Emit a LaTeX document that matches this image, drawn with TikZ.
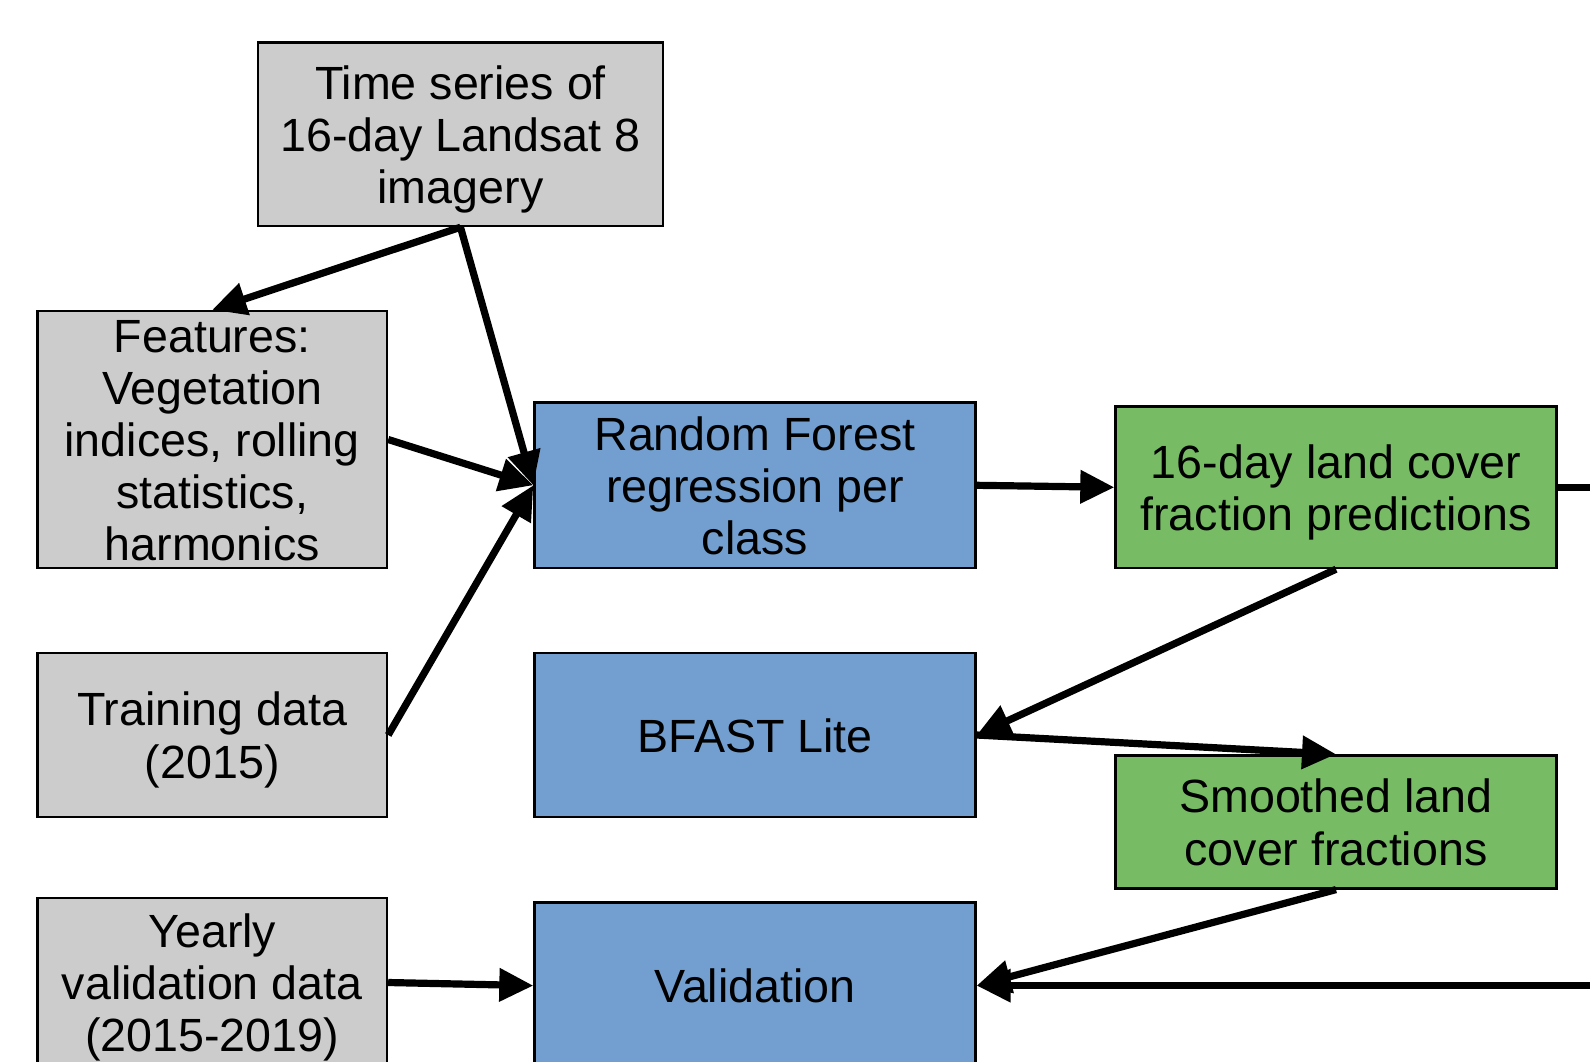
\documentclass[tikz,border=0pt]{standalone}
\usepackage{fontspec}
\setmainfont{Liberation Sans}
\usetikzlibrary{arrows.meta}
\definecolor{boxgrey}{HTML}{CCCCCC}
\definecolor{boxblue}{HTML}{729FCF}
\definecolor{boxgreen}{HTML}{77BC65}
\newcommand{\tsT}{\rule{0pt}{22pt}}
\newcommand{\tsB}{\rule[-5pt]{0pt}{5pt}}
\newcommand{\tsTs}{\rule{0pt}{20.4pt}}
\newcommand{\tsBs}{\rule[-3.4pt]{0pt}{3.4pt}}
\begin{document}
\begin{tikzpicture}[x=0.5pt,y=-0.5pt,
  box/.style={draw=black,line width=1.2pt,align=center,inner sep=0pt,
    font=\fontsize{23.3}{26.1}\selectfont},
  greybox/.style={box,fill=boxgrey,minimum width=174.75pt},
  bluebox/.style={box,fill=boxblue,minimum width=220.5pt},
  greenbox/.style={box,fill=boxgreen,minimum width=220.5pt},
  conn/.style={line width=3.6pt,-{Triangle[length=17pt,width=16pt]}},
  plainconn/.style={line width=3.6pt}]
\useasboundingbox (0,0) rectangle (1590,1061);
\clip (0,0) rectangle (1590,1061);
\node[greybox,minimum width=202.5pt,minimum height=91.75pt] (ts) at (460.5,134.3)
  {\tsT Time series of\\16-day Landsat 8\\imagery\tsB};
\node[greybox,minimum height=128.5pt] (feat) at (212.25,439.5)
  {\tsTs Features:\\Vegetation\\indices, rolling\\statistics,\\harmonics\tsBs};
\node[greybox,minimum height=82pt] (train) at (212.25,735)
  {\tsT Training data\\(2015)\tsB};
\node[greybox,minimum height=84.5pt] (yearly) at (212.25,982.5)
  {\tsT Yearly\\validation data\\(2015-2019)\tsB};
\node[bluebox,minimum height=82.7pt] (rf) at (755,485.3)
  {\tsT Random Forest\\regression per\\class\tsB};
\node[bluebox,minimum height=82pt] (bfast) at (755,735)
  {\tsT BFAST Lite\tsB};
\node[bluebox,minimum height=83pt] (valid) at (755,985.6)
  {\tsT Validation\tsB};
\node[greenbox,minimum height=80.7pt] (pred) at (1336,487.3)
  {\tsT 16-day land cover\\fraction predictions\tsB};
\node[greenbox,minimum height=66.5pt] (smooth) at (1336,821.9)
  {\tsT Smoothed land\\cover fractions\tsB};
\coordinate (r1) at (1610,487.3);
\coordinate (r2) at (1610,985.6);
\draw[conn] (ts.south) -- (feat.north);
\draw[conn] (ts.south) -- (rf.west);
\draw[conn] (feat.east) -- (rf.west);
\draw[conn] (train.east) -- (rf.west);
\draw[conn] (rf.east) -- (pred.west);
\draw[plainconn] (pred.east) -- (r1);
\draw[conn] (pred.south) -- (bfast.east);
\draw[conn] (bfast.east) -- (smooth.north);
\draw[conn] (smooth.south) -- (valid.east);
\draw[conn] (r2) -- (valid.east);
\draw[conn] (yearly.east) -- (valid.west);
\end{tikzpicture}
\end{document}
